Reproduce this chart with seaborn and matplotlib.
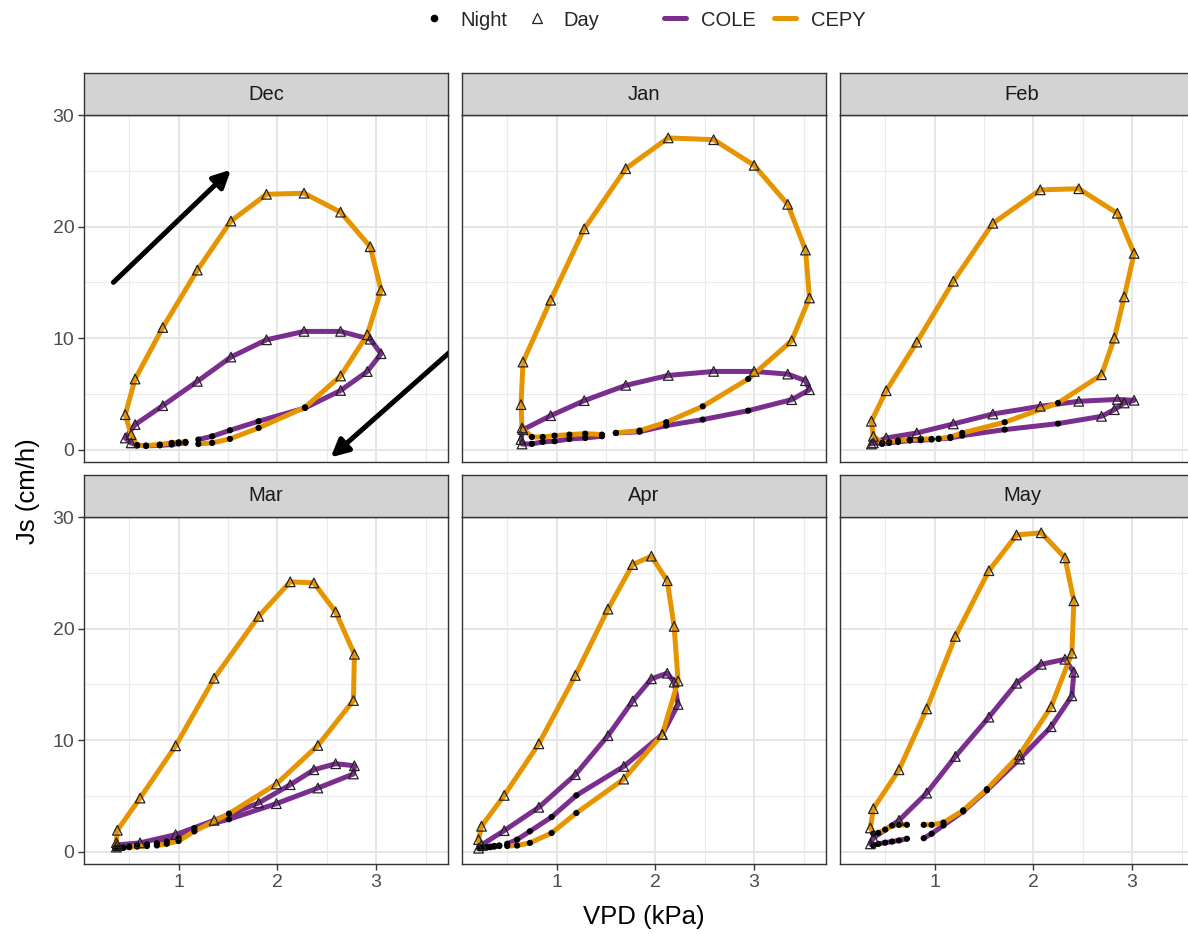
import numpy as np
import pandas as pd
import matplotlib
matplotlib.use("Agg")
import matplotlib.pyplot as plt
from matplotlib.lines import Line2D
from matplotlib.markers import MarkerStyle
from matplotlib.patches import FancyArrowPatch
import seaborn as sns

# ---------------- data (hourly, 0..23 h) ----------------
months = ["Dec", "Jan", "Feb", "Mar", "Apr", "May"]
species = ["COLE", "CEPY"]
hours = list(range(24))
day_start, day_end = 6, 18

vpd_dec = [1.07, 1.00, 0.93, 0.81, 0.67, 0.58, 0.52, 0.46, 0.56, 0.84, 1.19, 1.53,
           1.89, 2.27, 2.64, 2.94, 3.05, 2.91, 2.64, 2.28, 1.81, 1.52, 1.34, 1.20]
cepy_dec = [0.69, 0.65, 0.60, 0.45, 0.36, 0.36, 1.34, 3.13, 6.33, 10.95, 16.1, 20.5,
            22.9, 23.0, 21.3, 18.2, 14.3, 10.3, 6.6, 3.79, 1.94, 0.96, 0.60, 0.50]
cole_dec = [0.60, 0.55, 0.45, 0.38, 0.33, 0.40, 0.60, 1.04, 2.24, 3.94, 6.12, 8.3,
            9.85, 10.6, 10.6, 9.9, 8.6, 7.0, 5.3, 3.73, 2.54, 1.73, 1.19, 0.90]

vpd_jan = [1.46, 1.29, 1.13, 0.98, 0.86, 0.75, 0.65, 0.64, 0.66, 0.94, 1.28, 1.70,
           2.13, 2.59, 3.00, 3.34, 3.52, 3.56, 3.38, 2.94, 2.48, 2.11, 1.84, 1.60]
cepy_jan = [1.34, 1.43, 1.34, 1.25, 1.13, 1.13, 1.94, 4.03, 7.85, 13.4, 19.8, 25.2,
            27.96, 27.8, 25.5, 22.0, 17.9, 13.6, 9.76, 6.33, 3.88, 2.45, 1.70, 1.49]
cole_jan = [1.20, 1.04, 0.95, 0.75, 0.69, 0.51, 0.50, 0.90, 1.79, 3.04, 4.39, 5.76,
            6.65, 7.01, 7.01, 6.77, 6.18, 5.37, 4.48, 3.49, 2.69, 2.15, 1.60, 1.49]

vpd_feb = [0.97, 0.86, 0.75, 0.63, 0.54, 0.47, 0.38, 0.36, 0.51, 0.82, 1.19, 1.59,
           2.07, 2.46, 2.85, 3.02, 2.92, 2.82, 2.69, 2.25, 1.71, 1.28, 1.16, 1.04]
cepy_feb = [0.95, 0.95, 0.90, 0.81, 0.66, 0.60, 1.19, 2.54, 5.28, 9.64, 15.1, 20.3,
            23.3, 23.4, 21.2, 17.6, 13.7, 10.0, 6.71, 4.18, 2.45, 1.49, 1.13, 0.98]
cole_feb = [0.90, 0.84, 0.81, 0.69, 0.60, 0.51, 0.60, 0.50, 1.04, 1.49, 2.30, 3.19,
            3.88, 4.33, 4.50, 4.42, 4.18, 3.58, 2.98, 2.33, 1.79, 1.25, 1.04, 0.95]

vpd_mar = [0.68, 0.58, 0.50, 0.44, 0.40, 0.36, 0.37, 0.38, 0.61, 0.97, 1.36, 1.81,
           2.13, 2.37, 2.59, 2.78, 2.77, 2.41, 1.99, 1.51, 1.16, 1.00, 0.88, 0.78]
cepy_mar = [0.50, 0.45, 0.40, 0.35, 0.30, 0.30, 0.80, 1.91, 4.80, 9.49, 15.55, 21.1,
            24.2, 24.1, 21.5, 17.7, 13.55, 9.52, 6.06, 3.40, 1.82, 0.95, 0.70, 0.55]
cole_mar = [0.65, 0.55, 0.45, 0.35, 0.30, 0.30, 0.40, 0.60, 0.78, 1.52, 2.80, 4.36,
            6.00, 7.34, 7.88, 7.70, 6.96, 5.70, 4.30, 2.90, 2.10, 1.20, 0.90, 0.75]

vpd_apr = [0.42, 0.37, 0.33, 0.29, 0.25, 0.22, 0.21, 0.24, 0.47, 0.82, 1.19, 1.52,
           1.77, 1.96, 2.12, 2.19, 2.23, 2.07, 1.68, 1.20, 0.95, 0.73, 0.60, 0.50]
cepy_apr = [0.50, 0.50, 0.45, 0.40, 0.40, 0.40, 1.07, 2.27, 5.04, 9.67, 15.8, 21.75,
            25.75, 26.5, 24.3, 20.2, 15.3, 10.5, 6.50, 3.46, 1.67, 0.78, 0.54, 0.50]
cole_apr = [0.55, 0.45, 0.40, 0.35, 0.30, 0.30, 0.30, 0.60, 1.88, 3.97, 6.90, 10.4,
            13.5, 15.5, 16.0, 15.2, 13.2, 10.5, 7.64, 5.04, 3.10, 1.82, 1.07, 0.70]

vpd_may = [0.72, 0.64, 0.57, 0.50, 0.43, 0.38, 0.35, 0.38, 0.64, 0.92, 1.21, 1.55,
           1.83, 2.08, 2.32, 2.41, 2.39, 2.18, 1.86, 1.53, 1.29, 1.09, 0.97, 0.89]
cepy_may = [2.40, 2.40, 2.33, 1.97, 1.67, 1.61, 2.12, 3.85, 7.34, 12.8, 19.3, 25.2,
            28.4, 28.6, 26.35, 22.5, 17.8, 13.0, 8.68, 5.60, 3.70, 2.60, 2.40, 2.40]
cole_may = [1.15, 1.00, 0.90, 0.80, 0.69, 0.54, 0.69, 1.22, 2.80, 5.25, 8.53, 12.06,
            15.1, 16.8, 17.25, 16.1, 13.97, 11.2, 8.30, 5.50, 3.60, 2.35, 1.60, 1.20]

vpd_by_month = dict(zip(months, [vpd_dec, vpd_jan, vpd_feb, vpd_mar, vpd_apr, vpd_may]))
cole_by_month = dict(zip(months, [cole_dec, cole_jan, cole_feb, cole_mar, cole_apr, cole_may]))
cepy_by_month = dict(zip(months, [cepy_dec, cepy_jan, cepy_feb, cepy_mar, cepy_apr, cepy_may]))

# direction arrows drawn in the Dec panel (data units)
arrow_up = [(0.34, 15.0), (1.53, 25.1)]
arrow_down = [(3.74, 8.7), (2.54, -0.7)]

# ---------------- build long table ----------------
rows = []
for m in months:
    for sp, js in (("COLE", cole_by_month[m]), ("CEPY", cepy_by_month[m])):
        for h, v, j in zip(hours, vpd_by_month[m], js):
            rows.append(dict(Month=m, Species=sp, Hour=h, VPD=v, Js=j,
                             Period="Day" if day_start <= h <= day_end else "Night"))
df = pd.DataFrame(rows)

# ---------------- style ----------------
sns.set_theme(style="white")
plt.rcParams["font.family"] = ["Liberation Sans", "DejaVu Sans"]

palette = {"COLE": "#7A2E8E", "CEPY": "#E69500"}
tick_col = "#4D4D4D"
border_col = "#333333"

W, H = 1188, 934
fig = plt.figure(figsize=(W / 100, H / 100), dpi=100)

col_left = [84, 462, 840]
row_top = [115, 517]
pw, ph, sh = 364, 347, 42

xr = (df.VPD.min(), df.VPD.max())
yr = (df.Js.min(), df.Js.max())
xpad = 0.05 * (xr[1] - xr[0])
ypad = 0.05 * (yr[1] - yr[0])
xlim = (xr[0] - xpad, xr[1] + xpad)
ylim = (yr[0] - ypad, yr[1] + ypad)

tri = MarkerStyle("^", fillstyle="none")

for i, m in enumerate(months):
    r, c = divmod(i, 3)
    L, T = col_left[c], row_top[r]
    ax = fig.add_axes([L / W, 1 - (T + ph) / H, pw / W, ph / H])
    sax = fig.add_axes([L / W, 1 - T / H, pw / W, sh / H])

    sub = df[df.Month == m]
    for sp in species:
        s = sub[sub.Species == sp].sort_values("Hour")
        sns.lineplot(data=s, x="VPD", y="Js", sort=False, estimator=None,
                     color=palette[sp], lw=3.6, ax=ax, legend=False, zorder=2)
    night = sub[sub.Period == "Night"]
    day = sub[sub.Period == "Day"]
    sns.scatterplot(data=night, x="VPD", y="Js", color="black", s=20,
                    marker="o", edgecolor="none", ax=ax, legend=False, zorder=4)
    sns.scatterplot(data=day, x="VPD", y="Js", color="#222222", s=48,
                    marker=tri, linewidth=0.9, ax=ax, legend=False, zorder=5)

    if m == "Dec":
        for (x0, y0), (x1, y1) in (arrow_up, arrow_down):
            ax.add_patch(FancyArrowPatch((x0, y0), (x1, y1), arrowstyle="-|>",
                                         mutation_scale=26, lw=3.6, color="black",
                                         shrinkA=0, shrinkB=0, zorder=6))

    ax.set_xlim(xlim)
    ax.set_ylim(ylim)
    ax.set_xticks([1, 2, 3])
    ax.set_xticks([0.5, 1.5, 2.5, 3.5], minor=True)
    ax.set_yticks([0, 10, 20, 30])
    ax.set_yticks([5, 15, 25], minor=True)
    ax.grid(which="major", color="#E6E6E6", lw=1.4)
    ax.grid(which="minor", color="#EBEBEB", lw=0.8)
    ax.set_axisbelow(True)
    ax.set_xlabel("")
    ax.set_ylabel("")
    ax.tick_params(which="minor", length=0)
    ax.tick_params(which="major", length=4, width=1.0, color=border_col,
                   labelcolor=tick_col, labelsize=14, pad=3,
                   left=(c == 0), labelleft=(c == 0),
                   bottom=(r == 1), labelbottom=(r == 1))
    for sp_ in ax.spines.values():
        sp_.set_color(border_col)
        sp_.set_linewidth(1.0)

    sax.set_facecolor("#D3D3D3")
    sax.set_xticks([])
    sax.set_yticks([])
    for sp_ in sax.spines.values():
        sp_.set_color(border_col)
        sp_.set_linewidth(1.0)
    sax.text(0.5, 0.5, m, ha="center", va="center", fontsize=14.5,
             color="#1A1A1A", transform=sax.transAxes)

fig.text(28 / W, 1 - 491 / H, "Js (cm/h)", rotation=90, ha="center",
         va="center", fontsize=18.5, color="black")
fig.text(644 / W, 1 - 917 / H, "VPD (kPa)", ha="center", va="center",
         fontsize=18.5, color="black")

h_night = Line2D([], [], marker="o", color="black", linestyle="", markersize=4.5)
h_day = Line2D([], [], marker="^", markerfacecolor="none", markeredgecolor="#222222",
               linestyle="", markersize=6.5, markeredgewidth=0.9)
h_cole = Line2D([], [], color=palette["COLE"], lw=3.6)
h_cepy = Line2D([], [], color=palette["CEPY"], lw=3.6)

leg_kw = dict(loc="center", ncol=2, frameon=False, fontsize=14.5,
              handlelength=1.1, handletextpad=0.75, columnspacing=0.9,
              borderpad=0, borderaxespad=0)
fig.legend([h_night, h_day], ["Night", "Day"],
           bbox_to_anchor=(511 / W, 1 - 20 / H), **leg_kw)
fig.legend([h_cole, h_cepy], ["COLE", "CEPY"],
           bbox_to_anchor=(765 / W, 1 - 20 / H), **leg_kw)

fig.savefig("out.png", dpi=100)
